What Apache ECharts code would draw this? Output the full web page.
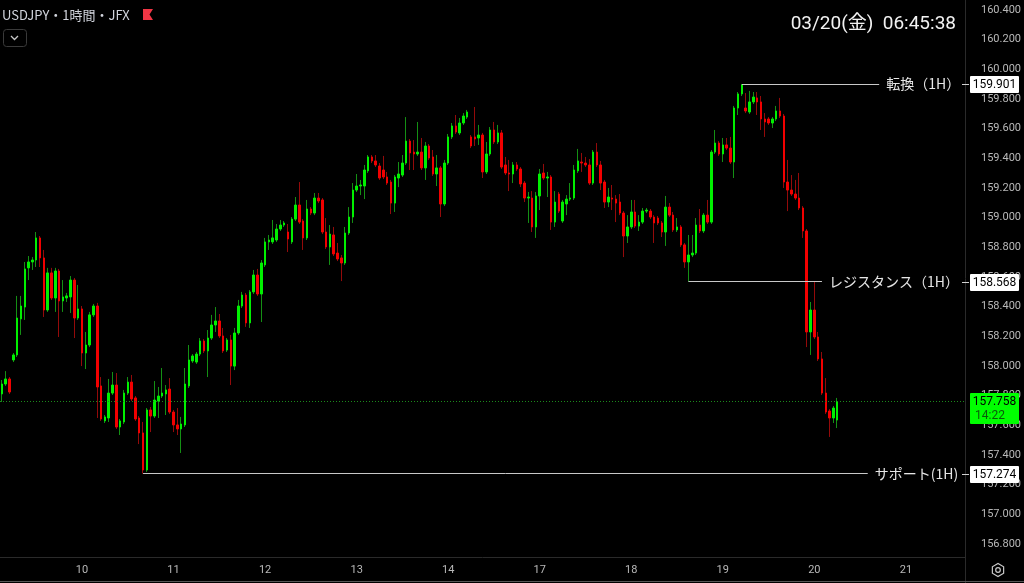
<!DOCTYPE html>
<html><head><meta charset="utf-8">
<script src="https://cdn.jsdelivr.net/npm/echarts@6/dist/echarts.min.js"></script>
<style>html,body{margin:0;padding:0;background:#000;}#c{width:1024px;height:583px;}</style>
</head><body><div id="c"></div>
<script>
// ---- data (USDJPY 1H) ----
const opens = [
157.811,157.878,157.912,158.040,158.074,158.317,158.397,158.661,158.701,158.714,
158.863,158.728,158.377,158.627,158.458,158.640,158.438,158.458,158.465,158.579,
158.323,158.384,158.087,158.141,158.344,158.404,157.865,157.629,157.649,157.817,
157.871,157.588,157.622,157.817,157.891,157.784,157.649,157.548,157.298,157.703,
157.662,157.763,157.797,157.811,157.844,157.689,157.602,157.575,157.602,157.865,
158.033,158.026,158.080,158.168,158.101,158.188,158.276,158.303,158.202,158.107,
158.175,157.999,158.222,158.404,158.478,158.290,158.499,158.613,158.485,158.681,
158.836,158.836,158.849,158.923,158.950,158.903,158.836,158.990,159.085,158.977,
158.863,159.058,159.031,159.132,159.119,158.903,158.802,158.883,158.761,158.728,
158.694,158.896,159.004,159.186,159.213,159.213,159.315,159.409,159.382,159.348,
159.321,159.274,159.240,159.098,159.267,159.287,159.368,159.516,159.442,159.429,
159.442,159.335,159.483,159.409,159.294,159.335,159.092,159.368,159.544,159.618,
159.571,159.638,159.678,159.544,159.544,159.537,159.557,159.308,159.429,159.591,
159.510,159.571,159.355,159.301,159.294,159.355,159.328,159.233,159.132,159.132,
158.937,159.146,159.301,159.267,159.274,158.970,159.159,158.977,159.092,159.125,
159.132,159.315,159.375,159.368,159.355,159.233,159.442,159.355,159.240,159.105,
159.132,159.125,159.105,159.031,158.876,158.937,159.038,158.943,158.970,159.044,
159.044,159.004,158.997,158.964,158.903,159.071,159.017,158.917,158.937,158.816,
158.701,158.748,158.761,158.950,158.910,159.017,158.970,159.442,159.503,159.429,
159.490,159.469,159.375,159.739,159.834,159.739,159.712,159.780,159.807,159.780,
159.665,159.665,159.638,159.665,159.719,159.685,159.240,159.186,159.159,159.132,
159.065,158.910,158.229,158.377,158.195,158.047,157.817,157.696,157.649,157.635];
const closes = [
157.878,157.912,157.824,158.074,158.323,158.404,158.654,158.701,158.714,158.863,
158.728,158.377,158.627,158.458,158.640,158.438,158.465,158.472,158.579,158.323,
158.384,158.087,158.141,158.344,158.404,157.858,157.642,157.656,157.817,157.871,
157.588,157.629,157.817,157.891,157.777,157.642,157.548,157.298,157.703,157.662,
157.770,157.797,157.817,157.838,157.689,157.602,157.575,157.608,157.878,158.040,
158.067,158.080,158.168,158.101,158.188,158.276,158.303,158.202,158.101,158.175,
157.999,158.222,158.404,158.478,158.290,158.499,158.613,158.485,158.694,158.836,
158.849,158.863,158.923,158.950,158.964,158.856,158.990,159.085,158.970,158.863,
159.058,159.031,159.132,159.112,158.903,158.802,158.889,158.755,158.721,158.694,
158.896,159.004,159.186,159.213,159.220,159.321,159.409,159.382,159.355,159.267,
159.274,159.233,159.098,159.274,159.294,159.368,159.516,159.436,159.429,159.442,
159.335,159.483,159.402,159.294,159.335,159.092,159.368,159.544,159.618,159.577,
159.638,159.685,159.712,159.483,159.530,159.557,159.308,159.429,159.591,159.510,
159.571,159.341,159.301,159.294,159.355,159.328,159.227,159.132,159.139,158.937,
159.146,159.294,159.267,159.274,158.970,159.105,159.044,159.105,159.125,159.132,
159.321,159.382,159.368,159.355,159.233,159.442,159.355,159.233,159.105,159.139,
159.125,159.098,159.031,158.876,158.937,159.038,158.943,158.970,159.044,159.051,
159.004,158.964,158.964,158.903,159.071,159.017,158.917,158.937,158.816,158.701,
158.748,158.761,158.950,158.910,159.017,158.970,159.442,159.503,159.429,159.490,
159.469,159.375,159.739,159.834,159.895,159.719,159.780,159.813,159.780,159.665,
159.645,159.638,159.665,159.719,159.685,159.240,159.186,159.159,159.132,159.065,
158.910,158.229,158.377,158.195,158.047,157.817,157.689,157.649,157.716,157.758];
const lows = [
157.757,157.865,157.811,158.026,158.060,158.209,158.310,158.579,158.647,158.667,
158.667,158.330,158.364,158.445,158.364,158.195,158.364,158.431,158.357,158.188,
158.310,157.999,157.979,158.127,158.330,157.649,157.629,157.615,157.622,157.804,
157.575,157.534,157.608,157.804,157.763,157.629,157.473,157.274,157.285,157.554,
157.649,157.649,157.784,157.669,157.676,157.554,157.534,157.413,157.588,157.851,
158.020,158.013,158.067,158.087,157.925,158.175,158.229,158.188,158.087,158.094,
157.871,157.972,158.209,158.391,158.263,158.256,158.485,158.472,158.296,158.667,
158.782,158.822,158.836,158.910,158.937,158.768,158.822,158.977,158.957,158.782,
158.849,159.017,159.017,159.098,158.889,158.788,158.681,158.741,158.707,158.572,
158.681,158.883,158.964,159.173,159.152,159.125,159.301,159.368,159.341,159.254,
159.260,159.220,159.024,159.038,159.206,159.274,159.355,159.321,159.321,159.416,
159.321,159.254,159.389,159.281,159.213,159.004,159.078,159.355,159.530,159.564,
159.557,159.625,159.665,159.469,159.483,159.490,159.267,159.294,159.416,159.496,
159.496,159.328,159.287,159.179,159.233,159.315,159.206,159.105,158.964,158.903,
158.863,159.051,159.254,159.139,158.917,158.937,159.031,158.964,159.017,159.112,
159.119,159.301,159.308,159.341,159.220,159.220,159.341,159.186,159.065,159.071,
159.051,158.970,159.017,158.734,158.829,158.923,158.930,158.910,158.957,159.031,
158.990,158.829,158.950,158.869,158.809,159.004,158.903,158.903,158.802,158.661,
158.568,158.734,158.748,158.896,158.896,158.957,158.957,159.429,159.416,159.375,
159.456,159.362,159.267,159.692,159.820,159.705,159.699,159.766,159.692,159.591,
159.544,159.625,159.604,159.651,159.672,159.200,159.044,159.146,159.119,159.051,
158.863,158.127,158.074,158.181,158.033,157.804,157.676,157.521,157.615,157.581];
const highs = [
157.905,157.965,157.925,158.087,158.472,158.472,158.701,158.741,158.734,158.903,
158.876,158.782,158.661,158.661,158.661,158.654,158.579,158.492,158.606,158.593,
158.546,158.404,158.229,158.364,158.418,158.425,157.925,157.669,157.912,157.959,
157.952,157.642,157.838,157.925,157.939,157.797,157.662,157.622,157.716,157.723,
157.898,157.858,157.986,157.871,157.918,157.703,157.716,157.656,157.986,158.141,
158.080,158.094,158.188,158.181,158.242,158.344,158.397,158.350,158.256,158.188,
158.209,158.256,158.445,158.499,158.492,158.512,158.647,158.654,158.714,158.863,
158.883,158.984,158.957,158.984,158.977,158.957,159.004,159.139,159.240,158.990,
159.119,159.071,159.166,159.166,159.132,158.997,158.950,158.937,158.829,158.748,
158.937,159.071,159.233,159.294,159.254,159.355,159.422,159.422,159.422,159.368,
159.416,159.308,159.254,159.287,159.375,159.422,159.678,159.530,159.523,159.645,
159.537,159.510,159.496,159.456,159.422,159.348,159.389,159.564,159.638,159.692,
159.672,159.705,159.726,159.557,159.746,159.625,159.571,159.510,159.611,159.645,
159.625,159.591,159.409,159.389,159.375,159.375,159.341,159.247,159.173,159.179,
159.173,159.328,159.362,159.308,159.287,159.179,159.173,159.119,159.152,159.233,
159.355,159.463,159.436,159.409,159.395,159.456,159.503,159.382,159.254,159.200,
159.220,159.152,159.159,159.044,159.017,159.119,159.119,159.017,159.065,159.065,
159.058,159.017,159.011,158.977,159.146,159.098,159.038,158.997,158.950,158.829,
158.883,158.883,158.997,159.058,159.031,159.119,159.456,159.591,159.516,159.537,
159.537,159.544,159.753,159.847,159.901,159.840,159.854,159.847,159.847,159.820,
159.705,159.678,159.678,159.753,159.807,159.699,159.389,159.287,159.254,159.301,
159.078,158.923,158.431,158.566,158.229,158.094,157.918,157.709,157.730,157.784];

// price axis tick labels
const priceTicks = [156.8,157.0,157.2,157.4,157.6,157.8,158.0,158.2,158.4,158.6,158.8,159.0,159.2,159.4,159.6,159.8,160.0,160.2,160.4];
// levels
const levelNames = ['転換（1H）','レジスタンス（1H）','サポート(1H)'];
const levelPrices = [159.901, 158.568, 157.274];
const levelFromBar = [194, 180, 37];
const lastPrice = 157.758;
const countdown = '14:22';
const title = 'USDJPY・1時間・JFX';
const clock = '03/20(金)  06:45:38';
// time segments (hourly bars, weekend gap): [day, startHour, bars]
const segments = [[9, 3, 123], [16, 6, 130]];

// ---- build categories ----
const cats = [];
segments.forEach(([d, h, n]) => {
  for (let i = 0; i < n; i++) {
    const t = h + i;
    const day = d + Math.floor(t / 24);
    const hr = t % 24;
    cats.push(day + ' ' + (hr < 10 ? '0' : '') + hr + ':00');
  }
});

const wickData = opens.map((o, i) => [o, closes[i], lows[i], highs[i]]);
const bodyData = opens.map((o, i) => [o, closes[i], Math.min(o, closes[i]), Math.max(o, closes[i])]);

const UP = '#00f000', DN = '#f20000';
const levelLineEnd = [230, 215, 227];

const chart = echarts.init(document.getElementById('c'), null, {renderer: 'canvas'});
const option = {
  backgroundColor: '#000000',
  animation: false,
  grid: {left: -1, right: 59, top: 0, bottom: 26},
  xAxis: {
    type: 'category', data: cats, boundaryGap: true,
    axisLine: {show: true, lineStyle: {color: '#2a2a2a'}},
    axisTick: {show: false},
    splitLine: {show: false},
    axisLabel: {
      color: '#b8b8b8', fontSize: 11, fontFamily: 'Roboto', margin: 8,
      interval: (idx, val) => val.endsWith(' 00:00'),
      formatter: (val) => val.split(' ')[0]
    }
  },
  yAxis: {
    type: 'value', position: 'right', scale: true,
    min: 156.7115, max: 160.4674,
    axisLine: {show: true, lineStyle: {color: '#2a2a2a'}},
    axisTick: {show: false},
    splitLine: {show: false},
    axisLabel: {
      customValues: priceTicks,
      color: '#b8b8b8', fontSize: 11, fontFamily: 'Roboto', margin: 16, align: 'left',
      formatter: (v) => Number(v).toFixed(3)
    }
  },
  series: [
    {
      type: 'candlestick', data: wickData, barWidth: 1, silent: true,
      itemStyle: {color: '#0f7a0f', color0: '#8a0808', borderColor: '#149014', borderColor0: '#940a0a', borderWidth: 1}
    },
    {
      type: 'candlestick', data: bodyData, barWidth: 2, silent: true,
      itemStyle: {color: UP, color0: DN, borderColor: UP, borderColor0: DN, borderWidth: 1},
      markLine: {
        silent: true, symbol: ['none', 'none'], animation: false,
        data: [
          {yAxis: lastPrice, lineStyle: {color: '#1b8a1b', width: 1, type: [1, 2]}, label: {show: false}},
          ...levelPrices.map((p, i) => [
            {coord: [levelFromBar[i], p], lineStyle: {color: '#c8c8c8', width: 1, type: 'solid'},
             label: {show: true, position: 'end', formatter: levelNames[i], color: '#e6e6e6', fontSize: 14,
                     fontFamily: '"Noto Sans CJK JP"', distance: 7}},
            {coord: [levelLineEnd[i], p]}
          ])
        ]
      }
    }
  ],
  tooltip: {show: false}
};
chart.setOption(option);

const py = (v) => chart.convertToPixel({yAxisIndex: 0}, v);
const g = [];
g.push({type: 'text', z: 100, style: {x: 2, y: 15, text: title, fill: '#d1d4dc', font: '13px "Noto Sans CJK JP"', verticalAlign: 'middle'}});
g.push({type: 'polygon', z: 100, shape: {points: [[143, 9], [153, 9], [149.5, 14.5], [153, 20], [143, 20]]}, style: {fill: '#f23645'}});
g.push({type: 'rect', z: 100, shape: {x: 3.5, y: 29.5, width: 23, height: 17, r: 3}, style: {fill: 'none', stroke: '#3a3a3a', lineWidth: 1}});
g.push({type: 'polyline', z: 100, shape: {points: [[11, 36], [14.5, 39.5], [18, 36]]}, style: {stroke: '#c8c8c8', lineWidth: 1.3, fill: 'none'}});
g.push({type: 'text', z: 100, style: {x: 956, y: 24, text: clock, fill: '#f2f2f2', font: '19px Roboto, "Noto Sans CJK JP"', align: 'right', verticalAlign: 'middle'}});
levelPrices.forEach((p) => {
  const y = Math.round(py(p));
  g.push({type: 'line', z: 100, shape: {x1: 962, y1: y + 0.5, x2: 969, y2: y + 0.5}, style: {stroke: '#d0d0d0', lineWidth: 1}});
  g.push({type: 'rect', z: 100, shape: {x: 970, y: y - 8, width: 49, height: 17, r: 1}, style: {fill: '#ffffff'}});
  g.push({type: 'text', z: 101, style: {x: 994.5, y: y + 0.5, text: p.toFixed(3), fill: '#000000', font: '12px Roboto', align: 'center', verticalAlign: 'middle'}});
});
{
  const y = Math.round(py(lastPrice));
  g.push({type: 'rect', z: 100, shape: {x: 970, y: y - 9, width: 49, height: 31, r: 1}, style: {fill: '#00ff00'}});
  g.push({type: 'text', z: 101, style: {x: 994.5, y: y, text: lastPrice.toFixed(3), fill: '#000000', font: '12px Roboto', align: 'center', verticalAlign: 'middle'}});
  g.push({type: 'text', z: 101, style: {x: 975, y: y + 14, text: countdown, fill: '#0a5a0a', font: '12px Roboto', align: 'left', verticalAlign: 'middle'}});
}
// bottom frame + settings icon
g.push({type: 'line', z: 100, shape: {x1: 965.5, y1: 557, x2: 965.5, y2: 583}, style: {stroke: '#2a2a2a', lineWidth: 1}});
g.push({type: 'line', z: 100, shape: {x1: 0, y1: 581.5, x2: 1024, y2: 581.5}, style: {stroke: '#555555', lineWidth: 1}});
{
  const cx = 998, cy = 570, r = 6.5, pts = [];
  for (let k = 0; k < 6; k++) { const a = Math.PI / 6 + k * Math.PI / 3; pts.push([cx + r * Math.cos(a), cy + r * Math.sin(a)]); }
  g.push({type: 'polygon', z: 100, shape: {points: pts}, style: {fill: 'none', stroke: '#c8c8c8', lineWidth: 1.2}});
  g.push({type: 'circle', z: 100, shape: {cx: cx, cy: cy, r: 2.3}, style: {fill: 'none', stroke: '#c8c8c8', lineWidth: 1.2}});
}
chart.setOption({graphic: g});
</script>
</body></html>
